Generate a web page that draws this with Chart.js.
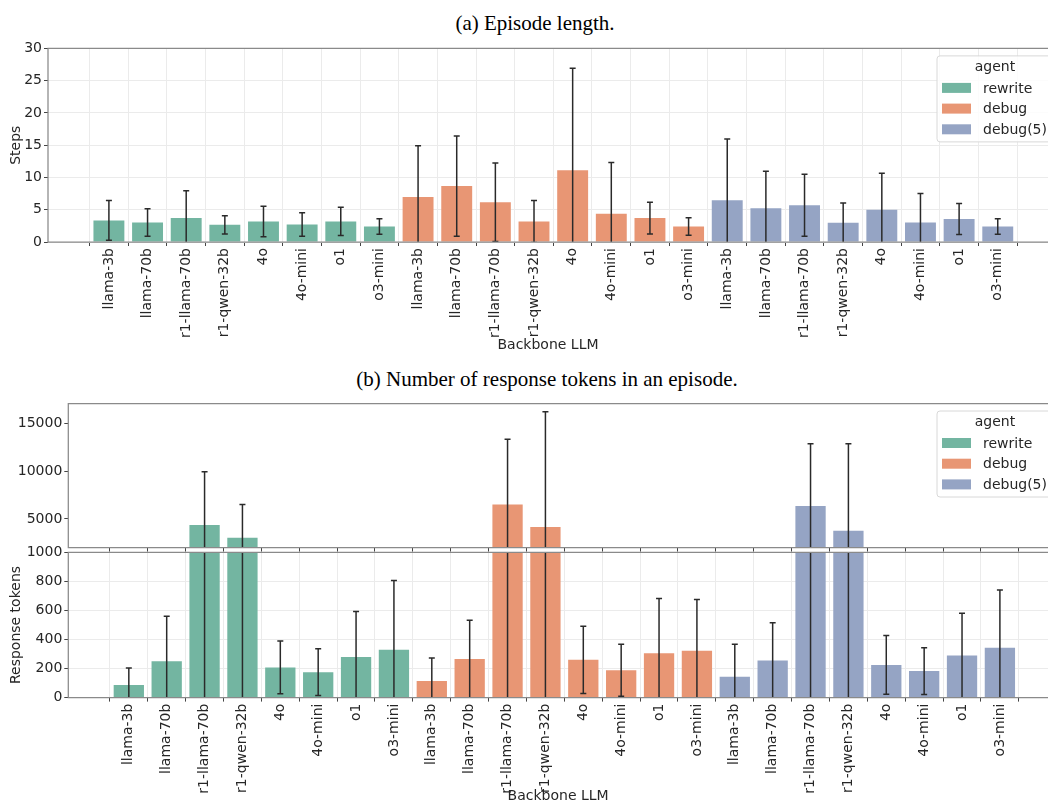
<!DOCTYPE html>
<html>
<head>
<meta charset="utf-8">
<script src="https://cdn.jsdelivr.net/npm/chart.js@4.4.1/dist/chart.umd.min.js"></script>
<style>
    body { margin: 0; width: 1048px; height: 805px; background: #fff; position: relative; overflow: hidden; }
    canvas { position: absolute; left: 0; }
    .panel-title { position: absolute; width: 600px; text-align: center; white-space: nowrap;
        font-family: 'Liberation Serif', serif; font-size: 21px; line-height: 24px; color: #000; }
</style>
</head>
<body>
<div class="panel-title" style="left:235px; top:11px;">(a) Episode length.</div>
<div class="panel-title" style="left:247px; top:367px;">(b) Number of response tokens in an episode.</div>
<canvas id="steps-chart" width="1048" height="318" style="top:38px;"></canvas>
<canvas id="tokens-top" width="1048" height="165" style="top:393px;"></canvas>
<canvas id="tokens-bottom" width="1048" height="263" style="top:542px;"></canvas>
<script>
'use strict';

// Categories:
var models = ['llama-3b', 'llama-70b', 'r1-llama-70b', 'r1-qwen-32b', '4o', '4o-mini', 'o1', 'o3-mini'];
var agents = ['rewrite', 'debug', 'debug(5)'];
var agentColors = ['#73b5a1', '#e89674', '#95a4c4'];

// (a) Episode length, mean and std per model:
var stepsRewrite = [3.34, 3.03, 3.70, 2.66, 3.18, 2.71, 3.18, 2.40];
var stepsRewriteErr = [3.08, 2.13, 4.23, 1.41, 2.35, 1.83, 2.19, 1.20];
var stepsDebug = [6.99, 8.66, 6.16, 3.18, 11.11, 4.38, 3.70, 2.40];
var stepsDebugErr = [7.93, 7.77, 6.10, 3.24, 15.80, 7.93, 2.46, 1.36];
var stepsDebug5 = [6.47, 5.22, 5.69, 2.97, 5.01, 3.03, 3.55, 2.40];
var stepsDebug5Err = [9.49, 5.73, 4.80, 3.08, 5.63, 4.48, 2.40, 1.20];

// (b) Response tokens, mean and std per model:
var tokensRewrite = [86, 250, 4368, 3035, 208, 175, 280, 329];
var tokensRewriteErr = [117, 311, 5579, 3474, 182, 161, 313, 477];
var tokensDebug = [114, 266, 6509, 4149, 260, 188, 306, 323];
var tokensDebugErr = [159, 267, 6842, 12085, 232, 179, 377, 353];
var tokensDebug5 = [143, 255, 6349, 3766, 225, 183, 290, 344];
var tokensDebug5Err = [224, 260, 6524, 9107, 202, 161, 291, 397];

// Tick labels:
var tickLabels = agents.reduce(function (acc) { return acc.concat(models); }, []);
var stepsTicks = [0, 5, 10, 15, 20, 25, 30];
var tokensTopTicks = [5000, 10000, 15000];
var tokensBottomTicks = [0, 200, 400, 600, 800, 1000];

var FONT = { family: 'DejaVu Sans', size: 14 };
var TEXT = '#262626';

// Build one dataset per agent, bars placed at consecutive x positions:
var makeDatasets = function makeDatasets(series, errors) {
    return agents.map(function (agent, j) {
        return {
            label: agent,
            data: series[j].map(function (v, i) { return { x: j * models.length + i, y: v }; }),
            errors: errors[j],
            backgroundColor: agentColors[j],
            borderWidth: 0,
            categoryPercentage: 1,
            barPercentage: 0.8
        };
    });
};

// Error bars (mean +/- std), clipped to the plot area:
var errorBarPlugin = {
    id: 'errorBars',
    afterDatasetsDraw: function (chart) {
        var ctx = chart.ctx, area = chart.chartArea;
        var xs = chart.scales.x, ys = chart.scales.y;
        ctx.save();
        ctx.beginPath();
        ctx.rect(area.left, area.top, area.right - area.left, area.bottom - area.top);
        ctx.clip();
        ctx.strokeStyle = '#2a2a2a';
        ctx.lineWidth = 1.5;
        chart.data.datasets.forEach(function (ds) {
            ds.data.forEach(function (pt, i) {
                var x = xs.getPixelForValue(pt.x);
                var lo = ys.getPixelForValue(pt.y - ds.errors[i]);
                var hi = ys.getPixelForValue(pt.y + ds.errors[i]);
                ctx.beginPath();
                ctx.moveTo(x, lo); ctx.lineTo(x, hi);
                ctx.moveTo(x - 3, lo); ctx.lineTo(x + 3, lo);
                ctx.moveTo(x - 3, hi); ctx.lineTo(x + 3, hi);
                ctx.stroke();
            });
        });
        ctx.restore();
    }
};

// Left, top and bottom spines:
var spinePlugin = {
    id: 'spines',
    afterDraw: function (chart) {
        var ctx = chart.ctx, a = chart.chartArea;
        ctx.save();
        ctx.strokeStyle = '#8a8a8a';
        ctx.lineWidth = 1.25;
        ctx.beginPath();
        ctx.moveTo(chart.width, a.top); ctx.lineTo(a.left, a.top);
        ctx.lineTo(a.left, a.bottom); ctx.lineTo(chart.width, a.bottom);
        ctx.stroke();
        ctx.restore();
    }
};

// Legend box in the upper right corner of the plot:
var agentLegendPlugin = {
    id: 'agentLegend',
    afterDraw: function (chart, args, opts) {
        if (!opts.show) return;
        var ctx = chart.ctx;
        var top = chart.chartArea.top + 7.5;
        var left = 937;
        ctx.save();
        ctx.fillStyle = 'rgba(255,255,255,0.85)';
        ctx.strokeStyle = '#d8d8d8';
        ctx.lineWidth = 1;
        ctx.beginPath();
        ctx.roundRect(left, top, 120, 86, 3);
        ctx.fill();
        ctx.stroke();
        ctx.font = '14px "DejaVu Sans"';
        ctx.fillStyle = TEXT;
        ctx.textBaseline = 'middle';
        ctx.textAlign = 'center';
        ctx.fillText('agent', 995, top + 11.5);
        ctx.textAlign = 'left';
        agents.forEach(function (agent, j) {
            var cy = top + 32 + j * 20.7;
            ctx.fillStyle = agentColors[j];
            ctx.fillRect(942, cy - 5, 29, 10);
            ctx.fillStyle = TEXT;
            ctx.fillText(agent, 983, cy + 1);
        });
        ctx.restore();
    }
};

var xAxis = function xAxis(min, max, opts) {
    return {
        type: 'linear',
        min: min,
        max: max,
        offset: false,
        stacked: true,
        afterBuildTicks: function (scale) {
            scale.ticks = tickLabels.map(function (l, i) { return { value: i }; });
        },
        afterFit: function (scale) { scale.height = opts.height; },
        ticks: {
            display: opts.labels,
            autoSkip: false,
            minRotation: 90,
            maxRotation: 90,
            padding: 2,
            color: TEXT,
            font: FONT,
            callback: function (v) { return tickLabels[v]; }
        },
        grid: { drawOnChartArea: opts.grid, color: '#ebebeb', tickColor: '#444', tickLength: 4 },
        border: { display: false },
        title: {
            display: opts.labels,
            text: 'Backbone LLM',
            color: TEXT,
            font: FONT,
            padding: { top: 0, bottom: opts.titleBottom }
        }
    };
};

var yAxis = function yAxis(min, max, ticks, opts) {
    return {
        min: min,
        max: max,
        stacked: true,
        afterBuildTicks: function (scale) {
            scale.ticks = ticks.map(function (t) { return { value: t }; });
        },
        afterFit: function (scale) { scale.width = opts.width; },
        ticks: {
            color: TEXT,
            font: FONT,
            padding: 2,
            callback: function (v) { return String(v); }
        },
        grid: { drawOnChartArea: opts.grid, color: '#ebebeb', tickColor: '#444', tickLength: 4 },
        border: { display: false },
        title: {
            display: !!opts.title,
            text: opts.title,
            color: TEXT,
            font: FONT,
            padding: { top: 8, bottom: 4 }
        }
    };
};

var renderChart = function renderChart(id, datasets, x, y, padding, legend) {
    return new Chart(document.getElementById(id), {
        type: 'bar',
        data: { datasets: datasets },
        options: {
            responsive: false,
            animation: false,
            layout: { padding: padding },
            plugins: {
                legend: { display: false },
                tooltip: { enabled: false },
                agentLegend: { show: legend }
            },
            scales: { x: x, y: y }
        },
        plugins: [errorBarPlugin, spinePlugin, agentLegendPlugin]
    });
};

var stepsData = makeDatasets([stepsRewrite, stepsDebug, stepsDebug5],
    [stepsRewriteErr, stepsDebugErr, stepsDebug5Err]);
var tokensSeries = [tokensRewrite, tokensDebug, tokensDebug5];
var tokensErrors = [tokensRewriteErr, tokensDebugErr, tokensDebug5Err];

renderChart('steps-chart', stepsData,
    xAxis(-1.576, 24.30, { labels: true, grid: true, height: 114, titleBottom: 2 }),
    yAxis(0, 30, stepsTicks, { width: 48, grid: true, title: 'Steps' }),
    { top: 10, bottom: 0, left: 0, right: 0 }, true);

renderChart('tokens-top', makeDatasets(tokensSeries, tokensErrors),
    xAxis(-1.598, 24.27, { labels: false, grid: false, height: 9.2, titleBottom: 0 }),
    yAxis(2000, 17100, tokensTopTicks, { width: 68.3, grid: false }),
    { top: 10.5, bottom: 0, left: 0, right: 0 }, true);

renderChart('tokens-bottom', makeDatasets(tokensSeries, tokensErrors),
    xAxis(-1.598, 24.27, { labels: true, grid: true, height: 107.4, titleBottom: 0 }),
    yAxis(0, 1000, tokensBottomTicks, { width: 68.3, grid: true, title: 'Response tokens' }),
    { top: 10.2, bottom: 0, left: 0, right: 0 }, false);
</script>
</body>
</html>
